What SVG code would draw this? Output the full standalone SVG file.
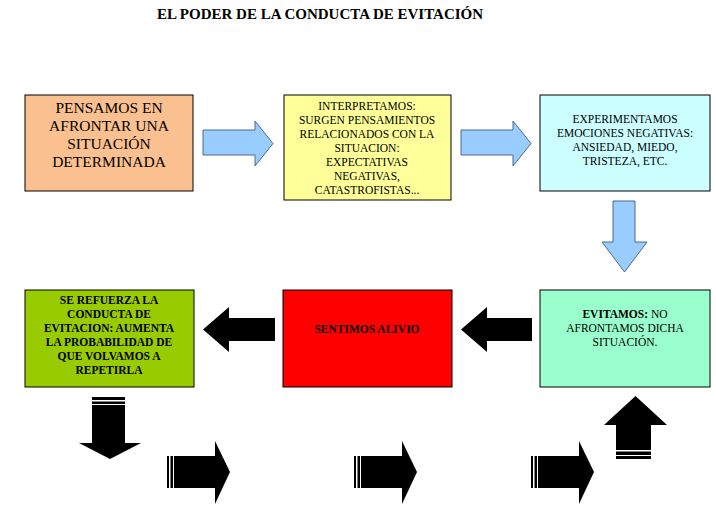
<svg xmlns="http://www.w3.org/2000/svg" width="716" height="508" viewBox="0 0 716 508">
<style>
.box{stroke:#000;stroke-width:1}
.t{font-family:"Liberation Serif",serif;text-anchor:middle;fill:#000}
.s{font-size:11.5px}
.b{font-weight:bold}
.blue{fill:#99ccff;stroke:#4a6a90;stroke-width:1}
.blk{fill:#000}
</style>
<rect width="716" height="508" fill="#fff"/>
<text class="t b" x="320" y="19" font-size="15">EL PODER DE LA CONDUCTA DE EVITACIÓN</text>
<g id="n1"><rect class="box" x="25" y="95" width="168" height="96" fill="#fac090"/>
<text class="t" font-size="15.5"><tspan x="109" y="113">PENSAMOS EN</tspan><tspan x="109" y="131">AFRONTAR UNA</tspan><tspan x="109" y="149">SITUACIÓN</tspan><tspan x="109" y="167">DETERMINADA</tspan></text></g>
<g id="n2"><rect class="box" x="284" y="95" width="167" height="105" fill="#ffff99"/>
<text class="t s"><tspan x="367" y="110">INTERPRETAMOS:</tspan><tspan x="367" y="124">SURGEN PENSAMIENTOS</tspan><tspan x="367" y="138">RELACIONADOS CON LA</tspan><tspan x="367" y="152">SITUACION:</tspan><tspan x="367" y="166">EXPECTATIVAS</tspan><tspan x="367" y="180">NEGATIVAS,</tspan><tspan x="367" y="194">CATASTROFISTAS...</tspan></text></g>
<g id="n3"><rect class="box" x="540" y="95" width="170" height="96" fill="#ccffff"/>
<text class="t s"><tspan x="625" y="123">EXPERIMENTAMOS</tspan><tspan x="625" y="137">EMOCIONES NEGATIVAS:</tspan><tspan x="625" y="151">ANSIEDAD, MIEDO,</tspan><tspan x="625" y="165">TRISTEZA, ETC.</tspan></text></g>
<g id="n4"><rect class="box" x="540" y="290" width="170" height="97" fill="#99ffcc"/>
<text class="t s"><tspan x="625" y="318"><tspan class="b">EVITAMOS:</tspan> NO</tspan><tspan x="625" y="332">AFRONTAMOS DICHA</tspan><tspan x="625" y="346">SITUACIÓN.</tspan></text></g>
<g id="n5"><rect class="box" x="283" y="290" width="169" height="97" fill="#ff0000"/>
<text class="t s b" x="367" y="333" fill="#300">SENTIMOS ALIVIO</text></g>
<g id="n6"><rect class="box" x="25" y="290" width="169" height="97" fill="#99cc00"/>
<text class="t s b"><tspan x="109" y="304">SE REFUERZA LA</tspan><tspan x="109" y="318">CONDUCTA DE</tspan><tspan x="109" y="332">EVITACION: AUMENTA</tspan><tspan x="109" y="346">LA PROBABILIDAD DE</tspan><tspan x="109" y="360">QUE VOLVAMOS A</tspan><tspan x="109" y="374">REPETIRLA</tspan></text></g>
<g id="connectors">
<path class="blue" d="M203,130 H255 V121 L273,143.5 L255,166 V155 H203 Z"/>
<path class="blue" d="M461,130 H513 V121 L531,143.5 L513,166 V155 H461 Z"/>
<path class="blue" d="M613,201 H635 V242 H647 L624.5,272 L602,242 H613 Z"/>
<path class="blk" d="M275,318 H229 V307 L203,329.5 L229,352 V341 H275 Z"/>
<path class="blk" d="M532,318 H487 V307 L461,329.5 L487,352 V341 H532 Z"/>
<path class="blk" d="M92,397 H125 V443 H141 L110,459 L79,443 H92 Z"/>
<rect x="92" y="400" width="33" height="1.5" fill="#fff"/><rect x="92" y="404" width="33" height="1" fill="#fff"/>
<g id="r1"><path class="blk" d="M167,456 H215 V441 L230,472 L215,504 V488 H167 Z"/>
<rect x="169" y="456" width="1.5" height="32" fill="#fff"/><rect x="173" y="456" width="1" height="32" fill="#fff"/></g>
<g><path class="blk" d="M354,456 H402 V441 L417,472 L402,504 V488 H354 Z"/>
<rect x="356" y="456" width="1.5" height="32" fill="#fff"/><rect x="360" y="456" width="1" height="32" fill="#fff"/></g>
<g><path class="blk" d="M531,456 H579 V441 L594,472 L579,504 V488 H531 Z"/>
<rect x="533" y="456" width="1.5" height="32" fill="#fff"/><rect x="537" y="456" width="1" height="32" fill="#fff"/></g>
<path class="blk" d="M616,459 V425 H604 L635.5,396 L667,425 H651 V459 Z"/>
<rect x="616" y="450" width="35" height="1.5" fill="#fff"/><rect x="616" y="455" width="35" height="1" fill="#fff"/>
</g>
</svg>
